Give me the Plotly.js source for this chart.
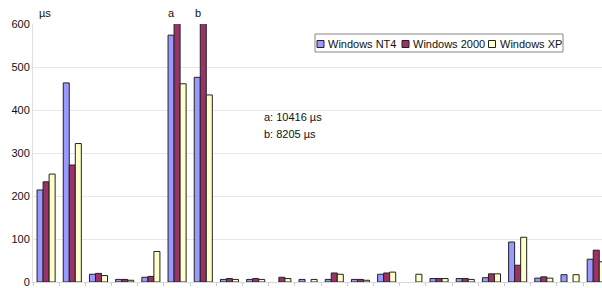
<!DOCTYPE html>
<html>
<head>
<meta charset="utf-8">
<script src="https://cdn.plot.ly/plotly-3.0.1.min.js"></script>
<style>html,body{margin:0;padding:0;background:#fff;}#chart{width:602px;height:288px;}</style>
</head>
<body>
<div id="chart"></div>
<script>
var categories = ["1","2","3","4","5","6","7","8","9","10","11","12","13","14","15","16","17","18","19","20","21","22"];
var seriesNames = ["Windows NT4", "Windows 2000", "Windows XP"];
var nt4   = [214, 463, 18, 6, 11, 574, 476, 6, 6, null, 6, 6, 6, 18, null, 8, 8, 10, 93, 9, 17, 53];
var w2000 = [233, 272, 20, 6, 13, 10416, 8205, 8, 8, 11, null, 21, 6, 21, null, 8, 8, 19, 39, 12, null, 74];
var wxp   = [251, 322, 15, 4, 71, 461, 435, 6, 6, 8, 6, 18, 4, 23, 18, 8, 6, 19, 104, 9, 17, 47];
var colors = ["#9999FF", "#993366", "#FFFFCC"];
var yTicks = [0, 100, 200, 300, 400, 500, 600];
var noteLines = ["a: 10416 µs", "b: 8205 µs"];
var overLabels = [{cat: "6", text: "a"}, {cat: "7", text: "b"}];

var font = {family: "Liberation Sans, Arial, sans-serif", size: 11, color: "#111"};
var allSeries = [nt4, w2000, wxp];
var traces = allSeries.map(function (vals, i) {
  return {
    type: "bar", x: categories, y: vals, name: seriesNames[i],
    marker: {color: colors[i], line: {color: "#222", width: 1}},
    hoverinfo: "none"
  };
});

// pixel helpers for paper coordinates
var L = 33, R = 602, T = 24, B = 282;
function px(x) { return (x - L) / (R - L); }
function py(y) { return (B - y) / (B - T); }

var shapes = [];
var annotations = [];
// legend box
shapes.push({type: "rect", xref: "paper", yref: "paper", x0: px(315), x1: px(563), y0: py(52), y1: py(34),
  line: {color: "#888", width: 1}, fillcolor: "#fff", layer: "above"});
var legendX = [317, 402, 488.5];
seriesNames.forEach(function (n, i) {
  shapes.push({type: "rect", xref: "paper", yref: "paper", x0: px(legendX[i]), x1: px(legendX[i] + 7),
    y0: py(47.5), y1: py(40.5), fillcolor: colors[i], line: {color: "#222", width: 1}, layer: "above"});
  annotations.push({xref: "paper", yref: "paper", x: px(legendX[i] + 9), y: py(43.5), text: n,
    showarrow: false, xanchor: "left", yanchor: "middle", font: font});
});
noteLines.forEach(function (t, i) {
  annotations.push({xref: "paper", yref: "paper", x: px(262), y: py(117 + 16.5 * i), text: t,
    showarrow: false, xanchor: "left", yanchor: "middle", font: font});
});
annotations.push({xref: "paper", yref: "paper", x: px(37), y: py(13), text: "µs",
  showarrow: false, xanchor: "left", yanchor: "middle", font: font});
overLabels.forEach(function (o) {
  annotations.push({xref: "x", yref: "paper", x: categories.indexOf(o.cat) - 0.2, y: py(13), text: o.text,
    showarrow: false, xanchor: "center", yanchor: "middle", font: font});
});

var layout = {
  width: 602, height: 288,
  margin: {l: L, r: 602 - R, t: T, b: 288 - B, pad: 0},
  paper_bgcolor: "#fff", plot_bgcolor: "#fff",
  showlegend: false,
  barmode: "group", bargap: 0.31, bargroupgap: 0,
  font: font,
  xaxis: {
    type: "category", categoryorder: "array", categoryarray: categories,
    range: [-0.5, 21.22], showticklabels: false, showgrid: false, zeroline: false,
    tickson: "boundaries", ticks: "outside", ticklen: 3, tickcolor: "#ccc",
    showline: true, linecolor: "#d8d8d8", linewidth: 1, fixedrange: true
  },
  yaxis: {
    range: [0, 600], tickvals: yTicks, ticktext: yTicks.map(String),
    showgrid: true, gridcolor: "#e8e8e8", gridwidth: 1, zeroline: false,
    showline: true, linecolor: "#e0e0e0", linewidth: 1, ticks: "", 
    tickfont: font, fixedrange: true
  },
  shapes: shapes,
  annotations: annotations
};
Plotly.newPlot("chart", traces, layout, {displayModeBar: false, staticPlot: true});
</script>
</body>
</html>
